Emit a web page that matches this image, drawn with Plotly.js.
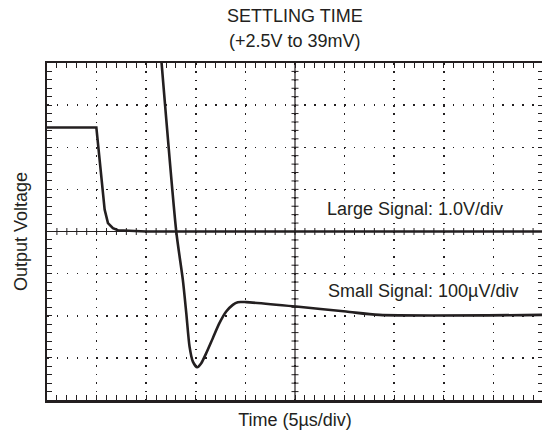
<!DOCTYPE html>
<html>
<head>
<meta charset="utf-8">
<script src="https://cdn.plot.ly/plotly-3.0.1.min.js"></script>
<style>
  html, body { margin: 0; padding: 0; overflow: hidden; background: #fff; }
  #chart { width: 546px; height: 441px; }
</style>
</head>
<body>
<div id="chart"></div>
<script>
// Time axis in divisions (5 µs/div), voltage in divisions
const largeX = [0, 0.995, 1.061, 1.116, 1.162, 1.229, 1.329, 1.43, 2.0, 10];
const largeY = [2.47, 2.47, 1.70, 0.99, 0.52, 0.20, 0.08, 0.03, 0.0, 0.0];

const smallX = [2.27, 2.31, 2.606, 2.739, 2.808, 2.874, 2.941, 3.029, 3.110, 3.210, 3.343, 3.476, 3.613, 3.746, 3.847, 4.016, 5.023, 6.030, 6.70, 10];
const smallY = [4.6, 4.0, 0.0, -1.147, -1.938, -2.732, -3.088, -3.221, -3.126, -2.888, -2.532, -2.176, -1.900, -1.741, -1.677, -1.677, -1.781, -1.900, -1.98, -1.98];

const titleLines = ["SETTLING TIME", "(+2.5V to 39mV)"];
const xTitle = "Time (5µs/div)";
const yTitle = "Output Voltage";
const traceLabels = ["Large Signal: 1.0V/div", "Small Signal: 100µV/div"];
const labelX = [5.62, 5.64];
const labelY = [0.53, -1.41];

const INK = '#231f20';
const FONT = 'Liberation Sans, Arial, Helvetica, sans-serif';

const traces = [
  { x: largeX, y: largeY, mode: 'lines', line: { color: INK, width: 2.6 }, hoverinfo: 'skip', showlegend: false },
  { x: smallX, y: smallY, mode: 'lines', line: { color: INK, width: 2.6, shape: 'spline', smoothing: 0.7 }, hoverinfo: 'skip', showlegend: false }
];

// center graticule lines with crossing minor ticks
const shapes = [
  { type: 'line', xref: 'x', yref: 'y', x0: 5, x1: 5, y0: -4, y1: 4, line: { color: INK, width: 1.2 } },
  { type: 'line', xref: 'x', yref: 'y', x0: 0, x1: 10, y0: 0, y1: 0, line: { color: INK, width: 1.2 } }
];
for (let i = 1; i < 50; i++) {
  const xv = i * 0.2;
  shapes.push({ type: 'line', xref: 'x', yref: 'y', ysizemode: 'pixel', yanchor: 0, y0: -3.5, y1: 3.5, x0: xv, x1: xv, line: { color: INK, width: 1 } });
}
for (let i = 1; i < 40; i++) {
  const yv = -4 + i * 0.2;
  shapes.push({ type: 'line', xref: 'x', yref: 'y', xsizemode: 'pixel', xanchor: 5, x0: -3.5, x1: 3.5, y0: yv, y1: yv, line: { color: INK, width: 1 } });
}

const annotations = traceLabels.map((t, i) => ({
  text: t, x: labelX[i], y: labelY[i], xref: 'x', yref: 'y',
  xanchor: 'left', yanchor: 'middle', showarrow: false,
  bgcolor: '#ffffff', borderpad: 0,
  font: { family: FONT, size: 18, color: INK }
}));
const titleShift = [47, 22];
titleLines.forEach((t, i) => annotations.push({
  text: t, x: 0.5, y: 1, xref: 'paper', yref: 'paper',
  xanchor: 'center', yanchor: 'middle', yshift: titleShift[i], showarrow: false,
  font: { family: FONT, size: 18, color: INK }
}));

const axisCommon = {
  showline: true, linewidth: 2.5, linecolor: INK, mirror: 'allticks',
  ticks: 'inside', ticklen: 5, tickwidth: 1, tickcolor: INK,
  showticklabels: false, zeroline: false, fixedrange: true,
  showgrid: true, gridcolor: INK, gridwidth: 1.5
};

const layout = {
  width: 546, height: 441,
  margin: { l: 47, r: 3, t: 63, b: 41 },
  paper_bgcolor: '#fff', plot_bgcolor: '#fff',
  font: { family: FONT, size: 18, color: INK },
  xaxis: Object.assign({}, axisCommon, {
    range: [0, 10], tick0: 0, dtick: 1, griddash: '1.5px,6.9px',
    minor: { tick0: 0, dtick: 0.2, ticks: 'inside', ticklen: 5, tickwidth: 1, tickcolor: INK, showgrid: false },
    title: { text: xTitle, standoff: 12, font: { family: FONT, size: 18, color: INK } }
  }),
  yaxis: Object.assign({}, axisCommon, {
    range: [-4, 4], tick0: -4, dtick: 1, griddash: '1.5px,8.4px',
    minor: { tick0: -4, dtick: 0.2, ticks: 'inside', ticklen: 5, tickwidth: 1, tickcolor: INK, showgrid: false },
    title: { text: yTitle, standoff: 12, font: { family: FONT, size: 18, color: INK } }
  }),
  shapes: shapes,
  annotations: annotations
};

Plotly.newPlot('chart', traces, layout, { staticPlot: true, displayModeBar: false });
</script>
</body>
</html>
